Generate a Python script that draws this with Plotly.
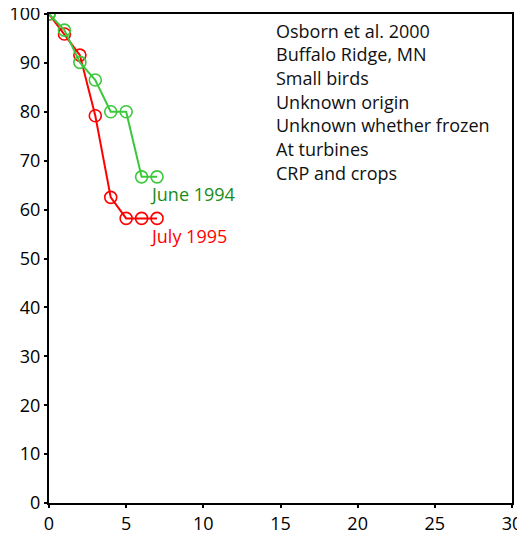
import plotly.graph_objects as go

# ── Data ──────────────────────────────────────────────────────────────────────
days = [0, 1, 2, 3, 4, 5, 6, 7]
june_1994 = [100, 96.7, 90.1, 86.5, 80.0, 80.0, 66.7, 66.7]
july_1995 = [100, 95.9, 91.6, 79.2, 62.5, 58.2, 58.2, 58.2]
notes = [
    "Osborn et al. 2000",
    "Buffalo Ridge, MN",
    "Small birds",
    "Unknown origin",
    "Unknown whether frozen",
    "At turbines",
    "CRP and crops",
]

FONT = "'Open Sans', sans-serif"
GREEN = "#3cc83c"
RED = "#ff0000"

fig = go.Figure()
fig.add_trace(go.Scatter(
    x=days, y=july_1995, mode="lines+markers",
    line=dict(color=RED, width=2),
    marker=dict(symbol="circle-open", size=12, color=RED, line=dict(width=1.6)),
))
fig.add_trace(go.Scatter(
    x=days, y=june_1994, mode="lines+markers",
    line=dict(color=GREEN, width=2),
    marker=dict(symbol="circle-open", size=12, color=GREEN, line=dict(width=1.6)),
))

fig.add_annotation(x=6.42, y=63.2, text="June 1994", showarrow=False,
                   xanchor="left", yanchor="middle",
                   font=dict(color="#1a8c1a", size=18, family=FONT))
fig.add_annotation(x=6.42, y=54.6, text="July 1995", showarrow=False,
                   xanchor="left", yanchor="middle",
                   font=dict(color=RED, size=18, family=FONT))

for i, line in enumerate(notes):
    fig.add_annotation(xref="paper", yref="paper", x=0.486, y=0.966 - i * 0.0485,
                       text=line, showarrow=False, xanchor="left", yanchor="middle",
                       font=dict(color="#111111", size=18, family=FONT))

axis = dict(showgrid=False, zeroline=False, showline=True, linecolor="black",
            linewidth=2, mirror=True, ticks="outside", ticklen=3, tickwidth=1.5,
            tickcolor="black", automargin=False, ticklabeloverflow="allow",
            tickfont=dict(size=18, color="black", family=FONT))

# page body keeps its default 8px offset, so the figure is sized to fit inside it
fig.update_layout(
    width=517, height=527,
    paper_bgcolor="white", plot_bgcolor="white",
    showlegend=False,
    margin=dict(l=41, r=13, t=6, b=32),
    xaxis=dict(range=[0, 30], tickvals=[0, 5, 10, 15, 20, 25, 30], **axis),
    yaxis=dict(range=[0, 100], tickvals=list(range(0, 101, 10)), **axis),
)

fig.write_html("out.html")
